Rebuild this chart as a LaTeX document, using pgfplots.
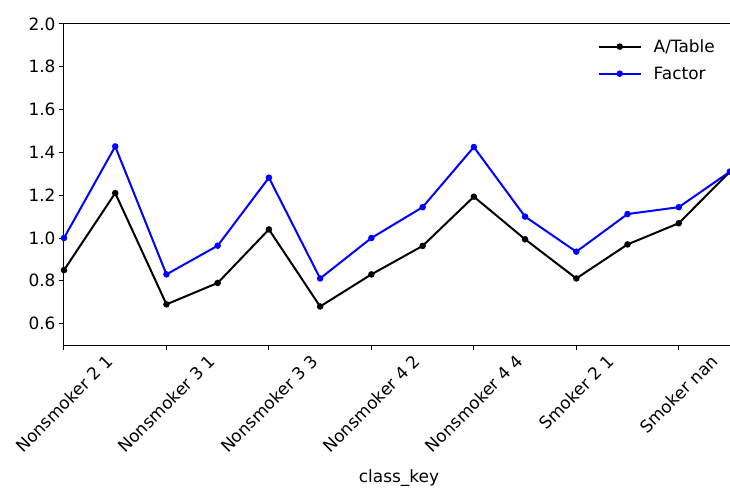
\documentclass[border=0pt]{standalone}
\usepackage{fontspec}
\setmainfont{DejaVu Sans}
\usepackage{graphicx}
\usepackage{pgfplots}
\pgfplotsset{compat=1.18}
\begin{document}
\begin{tikzpicture}[font=\fontsize{17}{20}\selectfont]
\useasboundingbox (-64bp,-147bp) rectangle (666bp,345bp);
\begin{axis}[
  at={(0,0)}, anchor=south west,
  scale only axis, width=666bp, height=321bp,
  xmin=0, xmax=13, ymin=0.5, ymax=2.0,
  xtick={0,2,4,6,8,10,12},
  xticklabels={\rotatebox{45}{Nonsmoker 2 1},\rotatebox{45}{Nonsmoker 3 1},\rotatebox{45}{Nonsmoker 3 3},\rotatebox{45}{Nonsmoker 4 2},\rotatebox{45}{Nonsmoker 4 4},\rotatebox{45}{Smoker 2 1},\rotatebox{45}{Smoker nan}},
  ytick={0.6,0.8,1.0,1.2,1.4,1.6,1.8,2.0},
  yticklabel style={/pgf/number format/fixed, /pgf/number format/fixed zerofill, /pgf/number format/precision=1},
  /pgf/number format/assume math mode=true,
  tick align=outside, tick pos=left,
  major tick length=5bp,
  axis line style={line width=1bp},
  tick style={line width=1bp, black},
  xlabel={class\_key},
  xlabel style={at={(rel axis cs:0.503,0)}, anchor=center, yshift=-133bp},
  legend style={draw=none, fill=none, at={(rel axis cs:0.985,0.965)}, anchor=north east, row sep=9bp,
    /tikz/every odd column/.append style={column sep=10bp}},
  legend cell align=left,
  legend image code/.code={\draw[mark repeat=2,mark phase=2,#1] plot coordinates {(0bp,0bp)(21bp,0bp)(42bp,0bp)};},
]
\addplot[black, line width=2bp, mark=*, mark size=2.2bp] coordinates {
(0,0.85) (1,1.21) (2,0.69) (3,0.79) (4,1.04) (5,0.68) (6,0.83)
(7,0.963) (8,1.193) (9,0.994) (10,0.811) (11,0.97) (12,1.069) (13,1.31)
};
\addlegendentry{A/Table}
\addplot[blue, line width=2bp, mark=*, mark size=2.2bp] coordinates {
(0,1.00) (1,1.428) (2,0.83) (3,0.964) (4,1.282) (5,0.811) (6,1.00)
(7,1.144) (8,1.425) (9,1.10) (10,0.936) (11,1.112) (12,1.144) (13,1.31)
};
\addlegendentry{Factor}
\end{axis}
\end{tikzpicture}
\end{document}
